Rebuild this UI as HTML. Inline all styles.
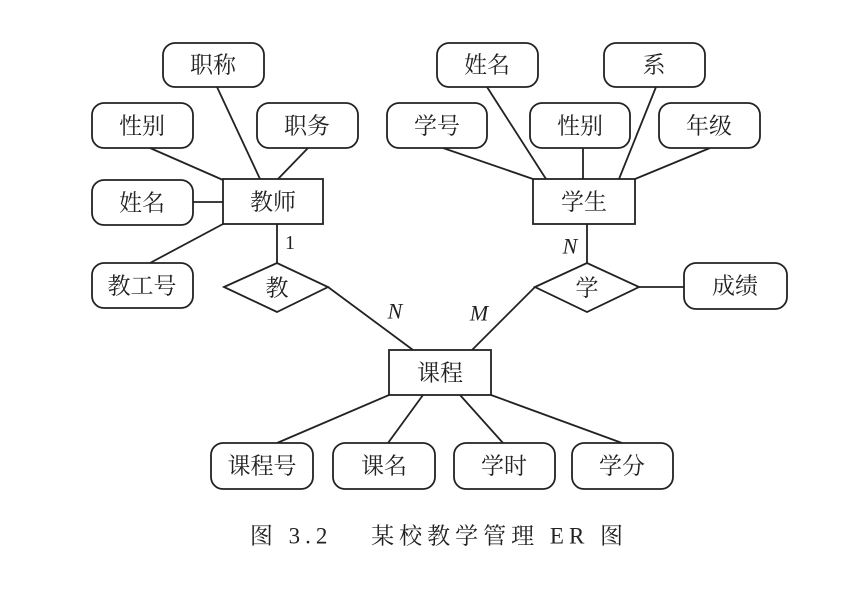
<!DOCTYPE html>
<html><head><meta charset="utf-8"><style>
html,body{margin:0;padding:0;background:#fff}
svg{display:block}
text{font-family:"Liberation Serif","Noto Serif CJK SC","Noto Sans CJK SC",serif;fill:#222}
</style></head><body>
<svg width="848" height="594" viewBox="0 0 848 594" xmlns="http://www.w3.org/2000/svg">
<g stroke="#222" stroke-width="1.8" fill="none">
<line x1="217" y1="87" x2="260" y2="179"/>
<line x1="308" y1="148" x2="278" y2="179"/>
<line x1="150" y1="148" x2="223" y2="180"/>
<line x1="193" y1="202" x2="223" y2="202"/>
<line x1="150" y1="263" x2="223" y2="224"/>
<line x1="277" y1="224" x2="277" y2="263"/>
<line x1="328" y1="287" x2="413" y2="350"/>
<line x1="443" y1="148" x2="533" y2="179"/>
<line x1="487" y1="87" x2="546" y2="179"/>
<line x1="583" y1="148" x2="583" y2="179"/>
<line x1="656" y1="87" x2="619" y2="179"/>
<line x1="710" y1="148" x2="635" y2="179"/>
<line x1="587" y1="224" x2="587" y2="263"/>
<line x1="639" y1="287" x2="684" y2="287"/>
<line x1="535" y1="287" x2="472" y2="350"/>
<line x1="389" y1="395" x2="277" y2="443"/>
<line x1="423" y1="395" x2="388" y2="443"/>
<line x1="460" y1="395" x2="503" y2="443"/>
<line x1="491" y1="395" x2="622" y2="443"/>
<rect x="163" y="43" width="101" height="44" rx="12" fill="#fff"/>
<rect x="92" y="103" width="101" height="45" rx="12" fill="#fff"/>
<rect x="257" y="103" width="101" height="45" rx="12" fill="#fff"/>
<rect x="92" y="180" width="101" height="45" rx="12" fill="#fff"/>
<rect x="92" y="263" width="101" height="45" rx="12" fill="#fff"/>
<rect x="437" y="43" width="101" height="44" rx="12" fill="#fff"/>
<rect x="604" y="43" width="101" height="44" rx="12" fill="#fff"/>
<rect x="387" y="103" width="100" height="45" rx="12" fill="#fff"/>
<rect x="530" y="103" width="100" height="45" rx="12" fill="#fff"/>
<rect x="659" y="103" width="101" height="45" rx="12" fill="#fff"/>
<rect x="684" y="263" width="103" height="46" rx="12" fill="#fff"/>
<rect x="211" y="443" width="102" height="46" rx="12" fill="#fff"/>
<rect x="333" y="443" width="102" height="46" rx="12" fill="#fff"/>
<rect x="454" y="443" width="101" height="46" rx="12" fill="#fff"/>
<rect x="572" y="443" width="101" height="46" rx="12" fill="#fff"/>
<rect x="223" y="179" width="100" height="45" fill="#fff"/>
<rect x="533" y="179" width="102" height="45" fill="#fff"/>
<rect x="389" y="350" width="102" height="45" fill="#fff"/>
<polygon points="224,287 277,263 328,287 277,312" fill="#fff"/>
<polygon points="535,287 587,263 639,287 587,312" fill="#fff"/>
</g>
<g font-size="23" text-anchor="middle" dominant-baseline="central">
<text x="213" y="65">职称</text>
<text x="142" y="126">性别</text>
<text x="307" y="126">职务</text>
<text x="142" y="203">姓名</text>
<text x="142" y="286">教工号</text>
<text x="273" y="202">教师</text>
<text x="277" y="288">教</text>
<text x="487" y="65">姓名</text>
<text x="654" y="65">系</text>
<text x="437" y="126">学号</text>
<text x="580" y="126">性别</text>
<text x="709" y="126">年级</text>
<text x="584" y="202">学生</text>
<text x="587" y="288">学</text>
<text x="735" y="286">成绩</text>
<text x="440" y="373">课程</text>
<text x="262" y="466">课程号</text>
<text x="384" y="466">课名</text>
<text x="504" y="466">学时</text>
<text x="622" y="466">学分</text>
</g>
<g font-size="22" font-style="italic" text-anchor="middle" dominant-baseline="central">
<text x="395" y="311">N</text>
<text x="479" y="313">M</text>
<text x="570" y="246">N</text>
</g>
<text x="290" y="243" font-size="20" text-anchor="middle" dominant-baseline="central">1</text>
<text x="439" y="536" font-size="23" letter-spacing="5" text-anchor="middle" dominant-baseline="central" xml:space="preserve">图 3.2　 某校教学管理 ER 图</text>
</svg>
</body></html>
